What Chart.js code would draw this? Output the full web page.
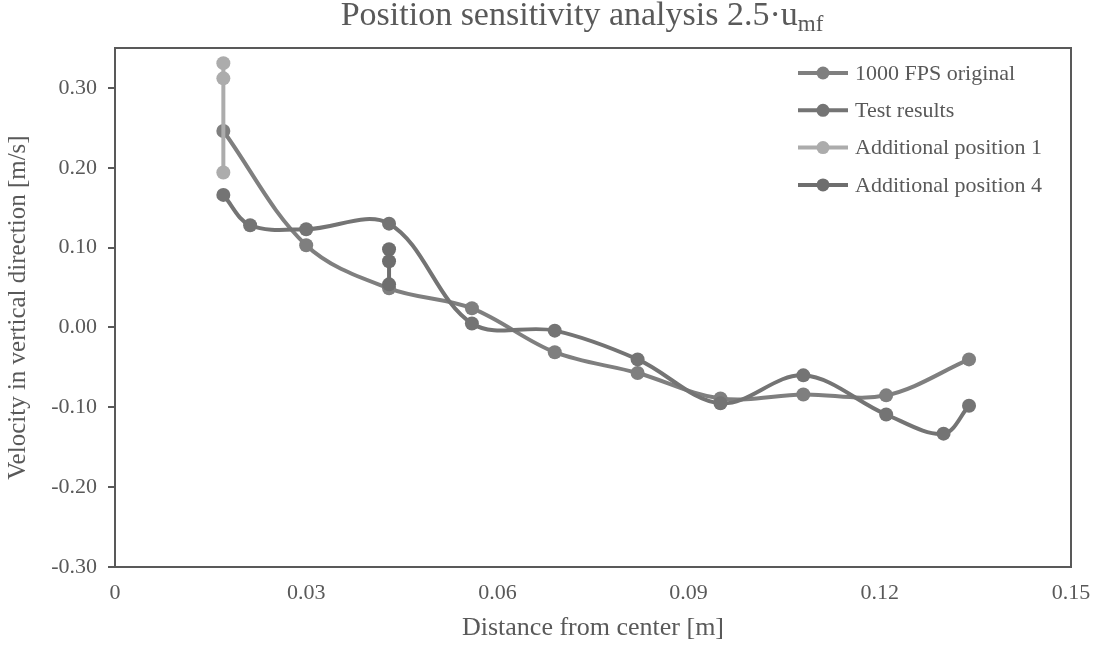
<!DOCTYPE html>
<html>
<head>
<meta charset="utf-8">
<script src="https://cdn.jsdelivr.net/npm/chart.js@4.4.1/dist/chart.umd.min.js"></script>
<style>
  body { margin: 0; background: #fff; }
  #wrap { position: relative; width: 1096px; height: 647px; }
  #title {
    position: absolute; left: 582px; top: -5px; transform: translateX(-50%);
    font-family: "Liberation Serif", "Times New Roman", serif;
    font-size: 34px; color: #595959; white-space: nowrap;
  }
  #title sub { font-size: 23px; vertical-align: -6px; line-height: 0; }
</style>
</head>
<body>
<div id="wrap">
  <canvas id="chart" width="1096" height="647"></canvas>
  <div id="title">Position sensitivity analysis 2.5·u<sub>mf</sub></div>
</div>
<script>
// values
const fpsX = [0.017, 0.030, 0.043, 0.056, 0.069, 0.082, 0.095, 0.108, 0.121, 0.134];
const fpsY = [0.246, 0.103, 0.049, 0.024, -0.031, -0.057, -0.089, -0.084, -0.085, -0.040];

const testX = [0.017, 0.0212, 0.030, 0.043, 0.056, 0.069, 0.082, 0.095, 0.108, 0.121, 0.130, 0.134];
const testY = [0.166, 0.128, 0.123, 0.130, 0.005, -0.004, -0.040, -0.095, -0.060, -0.109, -0.133, -0.098];

const pos1X = [0.017, 0.017, 0.017];
const pos1Y = [0.331, 0.312, 0.194];

const pos4X = [0.043, 0.043, 0.043];
const pos4Y = [0.098, 0.083, 0.054];

const xTicks = [0, 0.03, 0.06, 0.09, 0.12, 0.15];
const xTickLabels = ["0", "0.03", "0.06", "0.09", "0.12", "0.15"];
const yTicks = [-0.3, -0.2, -0.1, 0, 0.1, 0.2, 0.3];
const yTickLabels = ["-0.30", "-0.20", "-0.10", "0.00", "0.10", "0.20", "0.30"];

const FONT = "'Liberation Serif', 'Times New Roman', serif";
const TEXT = "#595959";
const AXIS = "#595959";

function pts(xs, ys) {
    let out = [];
    for (let i = 0; i < xs.length; i++) out.push({x: xs[i], y: ys[i]});
    return out;
}

function series(label, xs, ys, color, order) {
    return {
        label: label,
        data: pts(xs, ys),
        borderColor: color,
        backgroundColor: color,
        pointBackgroundColor: color,
        pointBorderWidth: 0,
        pointRadius: 7,
        borderWidth: 4,
        tension: 0.35,
        order: order
    };
}

// legend drawn inside the plot, top right
const innerLegend = {
    id: "innerLegend",
    afterDraw(chart) {
        let ctx = chart.ctx;
        ctx.save();
        ctx.font = "22px " + FONT;
        ctx.textBaseline = "middle";
        ctx.textAlign = "left";
        chart.data.datasets.forEach((ds, i) => {
            let y = 73 + i * 37.3;
            ctx.strokeStyle = ds.borderColor;
            ctx.lineWidth = 4;
            ctx.beginPath();
            ctx.moveTo(798, y);
            ctx.lineTo(848, y);
            ctx.stroke();
            ctx.fillStyle = ds.borderColor;
            ctx.beginPath();
            ctx.arc(823, y, 6.5, 0, Math.PI * 2);
            ctx.fill();
            ctx.fillStyle = TEXT;
            ctx.fillText(ds.label, 855, y + 1);
        });
        ctx.restore();
    }
};

// top and right edge of the plot frame
const frame = {
    id: "frame",
    beforeDatasetsDraw(chart) {
        let a = chart.chartArea;
        let ctx = chart.ctx;
        ctx.save();
        ctx.strokeStyle = AXIS;
        ctx.lineWidth = 2;
        ctx.beginPath();
        ctx.moveTo(a.left, a.top);
        ctx.lineTo(a.right, a.top);
        ctx.lineTo(a.right, a.bottom);
        ctx.stroke();
        ctx.restore();
    }
};

let ctx = document.getElementById("chart").getContext("2d");
let chart = new Chart(ctx, {
    type: "line",
    data: {
        datasets: [
            series("1000 FPS original", fpsX, fpsY, "#7f7f7f", 3),
            series("Test results", testX, testY, "#747474", 2),
            series("Additional position 1", pos1X, pos1Y, "#acacac", 1),
            series("Additional position 4", pos4X, pos4Y, "#6e6e6e", 0)
        ]
    },
    options: {
        responsive: false,
        animation: false,
        devicePixelRatio: 1,
        layout: {padding: {top: 48, right: 25, left: 0, bottom: 0}},
        plugins: {
            legend: {display: false},
            title: {display: false},
            tooltip: {enabled: false}
        },
        scales: {
            x: {
                type: "linear",
                min: 0,
                max: 0.15,
                afterBuildTicks: s => { s.ticks = xTicks.map(v => ({value: v})); },
                afterFit: s => { s.height = 80; s.paddingLeft = 0; s.paddingRight = 0; },
                ticks: {
                    autoSkip: false,
                    maxRotation: 0,
                    padding: 13,
                    color: TEXT,
                    font: {family: FONT, size: 22},
                    callback: (v, i) => xTickLabels[i]
                },
                grid: {display: true, drawOnChartArea: false, drawTicks: false},
                border: {display: true, color: AXIS, width: 2},
                title: {
                    display: true,
                    text: "Distance from center [m]",
                    color: TEXT,
                    font: {family: FONT, size: 26},
                    padding: 3
                }
            },
            y: {
                min: -0.3,
                max: 0.35,
                afterBuildTicks: s => { s.ticks = yTicks.map(v => ({value: v})); },
                afterFit: s => { s.width = 115; s.paddingTop = 0; s.paddingBottom = 0; },
                ticks: {
                    padding: 11,
                    color: TEXT,
                    font: {family: FONT, size: 22},
                    callback: (v, i) => yTickLabels[i]
                },
                grid: {display: true, drawOnChartArea: false, drawTicks: true, tickLength: 7, color: AXIS, lineWidth: 2},
                border: {display: true, color: AXIS, width: 2},
                title: {
                    display: true,
                    text: "Velocity in vertical direction [m/s]",
                    color: TEXT,
                    font: {family: FONT, size: 25},
                    padding: 3
                }
            }
        }
    },
    plugins: [frame, innerLegend]
});
</script>
</body>
</html>
